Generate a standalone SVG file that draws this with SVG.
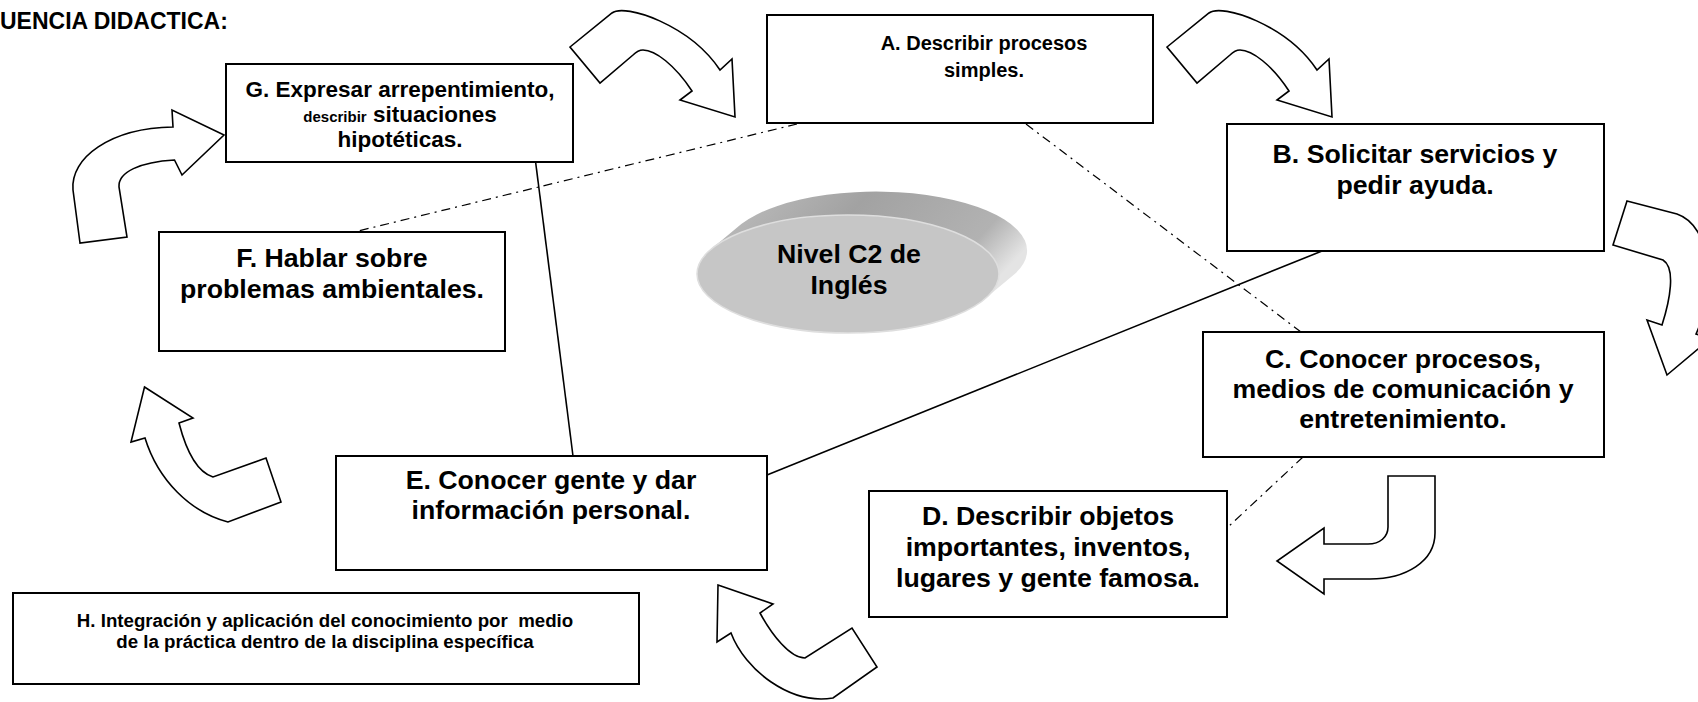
<svg xmlns="http://www.w3.org/2000/svg" width="1698" height="702" viewBox="0 0 1698 702">
<style>
.box{fill:#fff;stroke:#000;stroke-width:2}
.t{font-family:"Liberation Sans",Arial,sans-serif;font-weight:bold;fill:#000;text-anchor:middle}
.big{font-size:26.7px}
.mid{font-size:22.5px}
.sm{font-size:18.7px}
.solid{fill:none;stroke:#000;stroke-width:1.6}
.dd{fill:none;stroke:#000;stroke-width:1.2;stroke-dasharray:9 5 2 5}
.blk{fill:#fff;stroke:#000;stroke-width:1.6;stroke-linejoin:miter}
</style>
<defs>
<linearGradient id="side" x1="0" y1="0" x2="1" y2="0.4">
<stop offset="0" stop-color="#c4c4c4"/>
<stop offset="0.45" stop-color="#a2a2a2"/>
<stop offset="0.85" stop-color="#b2b2b2"/>
<stop offset="1" stop-color="#e4e4e4"/>
</linearGradient>
<path id="curvedArrow" d="M570,47 L612,13 C625,3 690,25 720,70 L732,59 L735,117 L680,100 L692,91 C675,65 655,50 643,50 C639,50 636,52 633,55 L600,83 Z"/>
</defs>
<rect width="1698" height="702" fill="#fff"/>

<text class="t" x="0" y="29" font-size="23" style="text-anchor:start">UENCIA DIDACTICA:</text>

<g id="connectors">
<line class="dd" x1="797" y1="124" x2="354" y2="232"/>
<line class="dd" x1="1026" y1="124" x2="1301" y2="332"/>
<line class="dd" x1="1303" y1="457" x2="1228" y2="527"/>
<line class="solid" x1="535.6" y1="162" x2="573" y2="456"/>
<line class="solid" x1="1322" y1="251" x2="767" y2="475"/>
</g>

<g id="cycle-arrows">
<use href="#curvedArrow" class="blk"/>
<use href="#curvedArrow" class="blk" transform="translate(597,0)"/>
<path class="blk" d="M1627,201 L1677,214 C1712,226 1716,290 1696,334 L1710,339 L1667,375 L1647,320 L1662,325 C1670,300 1676,268 1663,260 L1613,245 Z"/>
<path class="blk" d="M1388,476 L1435,476 L1435,533 C1435,562 1405,579 1370,579 L1324,579 L1324,594 L1277,561 L1324,528 L1324,544 L1368,544 C1380,544 1388,537 1388,527 Z"/>
<path class="blk" d="M718,585 L773,604 L760,613 C772,635 790,658 805,658 L852,628 L877,667 L833,698 C790,705 745,670 731,633 L717,642 Z"/>
<path class="blk" d="M144.5,387 L193,418 L179,423 C186,450 197,472 213,477 L266,458 L281,502 L228,522 C190,512 158,480 145,438 L131,442 Z"/>
<path class="blk" d="M80,243 L73,190 C70,158 110,128 173,127 L172,110 L224,135 L182,175 L174.5,160 C140,162 118,172 119,187 L127,237 Z"/>
</g>

<g id="node-G">
<rect class="box" x="226" y="64" width="347" height="98"/>
<text class="t mid" x="400" y="97">G. Expresar arrepentimiento,</text>
<text class="t mid" x="400" y="122"><tspan font-size="15">describir</tspan> situaciones</text>
<text class="t mid" x="400" y="147">hipotéticas.</text>
</g>

<g id="node-A">
<rect class="box" x="767" y="15" width="386" height="108"/>
<text class="t" font-size="20" x="984" y="50">A. Describir procesos</text>
<text class="t" font-size="20" x="984" y="77">simples.</text>
</g>

<g id="node-B">
<rect class="box" x="1227" y="124" width="377" height="127"/>
<text class="t big" x="1415" y="163">B. Solicitar servicios y</text>
<text class="t big" x="1415" y="194">pedir ayuda.</text>
</g>

<g id="node-C">
<rect class="box" x="1203" y="332" width="401" height="125"/>
<text class="t big" x="1403" y="368">C. Conocer procesos,</text>
<text class="t big" x="1403" y="398">medios de comunicación y</text>
<text class="t big" x="1403" y="428">entretenimiento.</text>
</g>

<g id="node-D">
<rect class="box" x="869" y="491" width="358" height="126"/>
<text class="t big" x="1048" y="525">D. Describir objetos</text>
<text class="t big" x="1048" y="556">importantes, inventos,</text>
<text class="t big" x="1048" y="587">lugares y gente famosa.</text>
</g>

<g id="node-E">
<rect class="box" x="336" y="456" width="431" height="114"/>
<text class="t big" x="551" y="489">E. Conocer gente y dar</text>
<text class="t big" x="551" y="519">información personal.</text>
</g>

<g id="node-F">
<rect class="box" x="159" y="232" width="346" height="119"/>
<text class="t big" x="332" y="267">F. Hablar sobre</text>
<text class="t big" x="332" y="298">problemas ambientales.</text>
</g>

<g id="node-H">
<rect class="box" x="13" y="593" width="626" height="91"/>
<text class="t sm" x="325" y="627" xml:space="preserve">H. Integración y aplicación del conocimiento por  medio</text>
<text class="t sm" x="325" y="648">de la práctica dentro de la disciplina específica</text>
</g>

<g id="node-center">
<path d="M711.3,249 L741.3,224 A151,59 0 0 1 1014.7,274 L984.7,299 A151,59 0 0 1 711.3,249 Z" fill="url(#side)"/>
<ellipse cx="848" cy="274" rx="151" ry="59" fill="#c6c6c6" stroke="#dedede" stroke-width="1.5"/>
<text class="t big" x="849" y="263">Nivel C2 de</text>
<text class="t big" x="849" y="294">Inglés</text>
</g>
</svg>
